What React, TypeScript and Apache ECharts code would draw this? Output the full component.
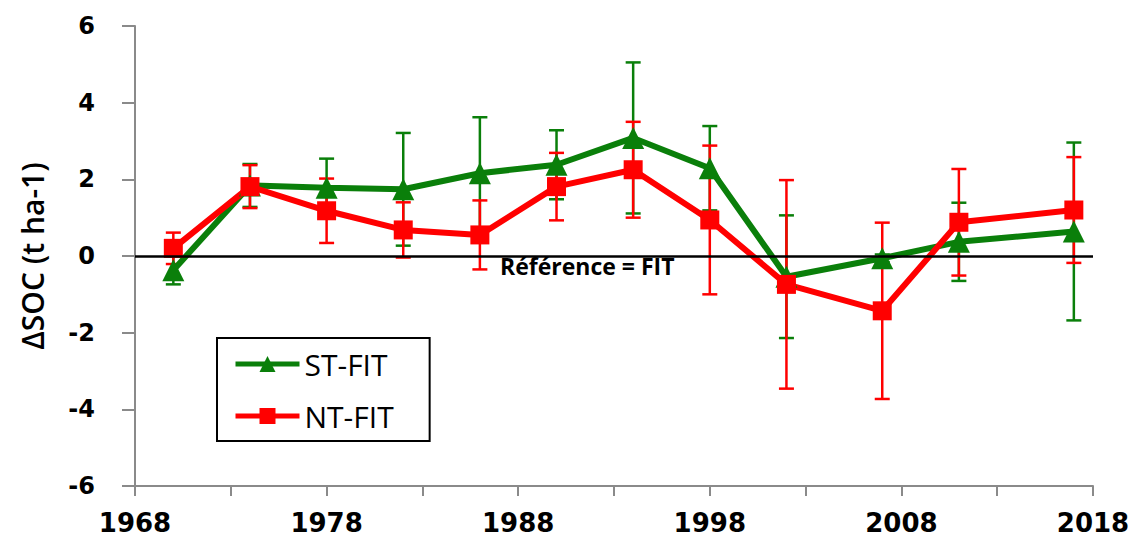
import React, { useEffect, useRef } from "react";
import * as echarts from "echarts";

const years = [1970, 1974, 1978, 1982, 1986, 1990, 1994, 1998, 2002, 2007, 2011, 2017];
const stFit = [-0.37, 1.84, 1.78, 1.74, 2.16, 2.38, 3.08, 2.29, -0.54, -0.06, 0.37, 0.64];
const stErr = [0.37, 0.56, 0.76, 1.47, 1.46, 0.9, 1.97, 1.1, 1.6, 0.1, 1.02, 2.32];
const ntFit = [0.2, 1.81, 1.18, 0.68, 0.55, 1.81, 2.25, 0.94, -0.74, -1.43, 0.88, 1.2];
const ntErr = [0.41, 0.56, 0.84, 0.72, 0.9, 0.88, 1.25, 1.94, 2.72, 2.3, 1.39, 1.38];
const seriesNames = ["ST-FIT", "NT-FIT"];
const yAxisName = "ΔSOC (t ha-1)";
const refLabel = "Référence = FIT";

const GREEN = "#0a7f0a";
const RED = "#ff0000";

function errSeries(name: string, vals: number[], errs: number[], color: string) {
  return {
    type: "custom",
    name,
    silent: true,
    z: 2,
    data: years.map((y, i) => [y, vals[i] - errs[i], vals[i] + errs[i]]),
    encode: { x: 0, y: [1, 2] },
    renderItem: (params: any, api: any) => {
      const x = api.value(0);
      const lo = api.coord([x, api.value(1)]);
      const hi = api.coord([x, api.value(2)]);
      const w = 7.5;
      const style = { stroke: color, lineWidth: 2.5 };
      return {
        type: "group",
        children: [
          { type: "line", shape: { x1: hi[0], y1: hi[1], x2: lo[0], y2: lo[1] }, style },
          { type: "line", shape: { x1: hi[0] - w, y1: hi[1], x2: hi[0] + w, y2: hi[1] }, style },
          { type: "line", shape: { x1: lo[0] - w, y1: lo[1], x2: lo[0] + w, y2: lo[1] }, style },
        ],
      };
    },
  };
}

export default function App() {
  const ref = useRef<HTMLDivElement>(null);
  useEffect(() => {
    const chart = echarts.init(ref.current!, null, { renderer: "svg" });
    chart.setOption({
      animation: false,
      backgroundColor: "#ffffff",
      grid: { left: 135, right: 47, top: 26, bottom: 51 },
      xAxis: {
        type: "value",
        min: 1968,
        max: 2018,
        interval: 5,
        axisLine: { show: true, onZero: false, lineStyle: { color: "#8a8a8a", width: 2 } },
        axisTick: { show: true, length: 10, lineStyle: { color: "#8a8a8a", width: 2 } },
        splitLine: { show: false },
        axisLabel: {
          margin: 24,
          fontFamily: "DejaVu Sans",
          fontWeight: "bold",
          fontSize: 26,
          color: "#000",
          showMinLabel: true,
          showMaxLabel: true,
          formatter: (v: number) => ((v - 1968) % 10 === 0 ? String(v) : ""),
        },
      },
      yAxis: {
        type: "value",
        min: -6,
        max: 6,
        interval: 2,
        name: yAxisName,
        nameLocation: "middle",
        nameGap: 88,
        nameTextStyle: { fontFamily: "Open Sans", fontWeight: 600, fontSize: 30, color: "#000" },
        axisLine: { show: true, onZero: false, lineStyle: { color: "#8a8a8a", width: 2 } },
        axisTick: { show: true, length: 13, lineStyle: { color: "#8a8a8a", width: 2 } },
        splitLine: { show: false },
        axisLabel: { margin: 40, fontFamily: "DejaVu Sans", fontWeight: "bold", fontSize: 24, color: "#000" },
      },
      legend: {
        data: seriesNames,
        orient: "vertical",
        left: 217,
        top: 338,
        padding: [11, 36, 10, 16],
        itemGap: 22,
        itemWidth: 64,
        itemHeight: 20,
        borderColor: "#000",
        borderWidth: 2,
        lineStyle: { width: 5 },
        textStyle: { fontFamily: "Open Sans", fontSize: 30, color: "#000" },
      },
      graphic: [
        {
          type: "text",
          left: 500,
          top: 254,
          style: { text: refLabel, font: 'bold 23px "Open Sans"', fill: "#000" },
        },
      ],
      series: [
        {
          type: "line",
          name: "zero",
          data: [],
          silent: true,
          markLine: {
            silent: true,
            symbol: ["none", "none"],
            label: { show: false },
            lineStyle: { color: "#000", width: 2.5, type: "solid" },
            data: [{ yAxis: 0 }],
          },
        },
        errSeries("ST-FIT err", stFit, stErr, GREEN),
        errSeries("NT-FIT err", ntFit, ntErr, RED),
        {
          type: "line",
          name: seriesNames[0],
          z: 3,
          data: years.map((y, i) => [y, stFit[i]]),
          symbol: "triangle",
          symbolSize: 22,
          itemStyle: { color: GREEN },
          lineStyle: { color: GREEN, width: 6 },
        },
        {
          type: "line",
          name: seriesNames[1],
          z: 3,
          data: years.map((y, i) => [y, ntFit[i]]),
          symbol: "rect",
          symbolSize: 19,
          itemStyle: { color: RED },
          lineStyle: { color: RED, width: 6 },
        },
      ],
    });
    return () => chart.dispose();
  }, []);
  return <div ref={ref} style={{ position: "absolute", left: 0, top: 0, width: 1140, height: 537 }} />;
}
